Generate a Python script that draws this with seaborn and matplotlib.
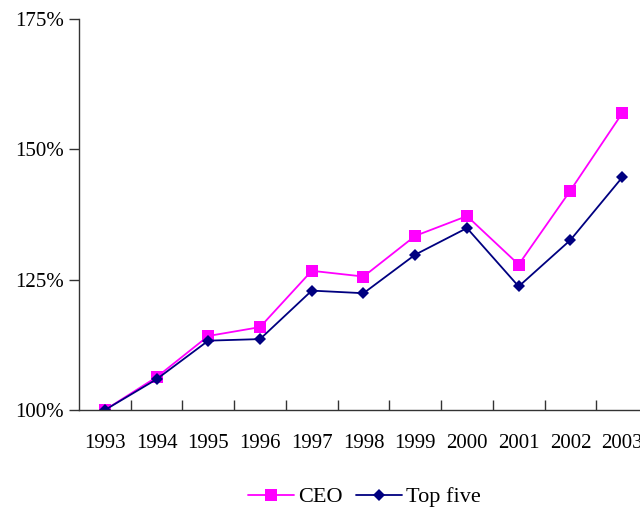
import pandas as pd
import matplotlib.pyplot as plt
import seaborn as sns
from matplotlib.ticker import FixedLocator, FuncFormatter

# ----------------------------------------------------------
# Data (index, 1993 = 100%)
# ----------------------------------------------------------

years = [1993, 1994, 1995, 1996, 1997, 1998, 1999, 2000, 2001, 2002, 2003]
ceo = [100.0, 106.3, 114.2, 115.9, 126.7, 125.6, 133.4, 137.2, 127.9, 142.1, 156.9]
top_five = [100.0, 105.9, 113.3, 113.6, 122.9, 122.4, 129.8, 134.9, 123.7, 132.6, 144.6]
y_ticks = [100, 125, 150, 175]

df = pd.DataFrame({"year": years, "CEO": ceo, "Top five": top_five})

# ----------------------------------------------------------
# Plot
# ----------------------------------------------------------

sns.set_style("white")
plt.rcParams["font.family"] = ["Liberation Serif", "DejaVu Serif"]
plt.rcParams["text.color"] = "black"
plt.rcParams["xtick.labelcolor"] = "black"
plt.rcParams["ytick.labelcolor"] = "black"

fig = plt.figure(figsize=(6.4, 5.14), dpi=100)
ax = fig.add_axes([79 / 640, 1 - 410 / 514, 569 / 640, 391 / 514])

sns.lineplot(data=df, x="year", y="CEO", ax=ax, color="#FF00FF",
             marker="s", markersize=8.5, markeredgewidth=0, linewidth=1.3,
             label="CEO")
sns.lineplot(data=df, x="year", y="Top five", ax=ax, color="#000080",
             marker="D", markersize=6.5, markeredgewidth=0, linewidth=1.3,
             label="Top five")

ax.set_xlim(years[0] - 0.5, years[-1] + 0.5)
ax.set_ylim(y_ticks[0], y_ticks[-1])

# year labels at the centre, tick marks on the boundaries
ax.set_xticks(years)
ax.set_xticklabels([str(y) for y in years], fontsize=15)
ax.xaxis.set_minor_locator(FixedLocator([y + 0.5 for y in years[:-1]]))
ax.tick_params(axis="x", which="major", length=0, pad=17)
ax.tick_params(axis="x", which="minor", direction="in", length=7,
               width=1, color="#333333", bottom=True)

ax.set_yticks(y_ticks)
ax.yaxis.set_major_formatter(FuncFormatter(lambda v, p: "%d%%" % v))
ax.tick_params(axis="y", direction="out", length=7, width=1,
               color="#333333", left=True, labelsize=15, pad=4)

ax.set_xlabel("")
ax.set_ylabel("")
sns.despine(ax=ax)
for s in ["left", "bottom"]:
    ax.spines[s].set_color("#333333")
    ax.spines[s].set_linewidth(1)

handles, labels = ax.get_legend_handles_labels()
ax.get_legend().remove()
fig.legend(handles, labels, loc="center", ncol=2, frameon=False,
           bbox_to_anchor=(364 / 640, 1 - 497 / 514), fontsize=16,
           handlelength=2.1, handletextpad=0.15, columnspacing=0.6)

fig.savefig("out.png", dpi=100)
